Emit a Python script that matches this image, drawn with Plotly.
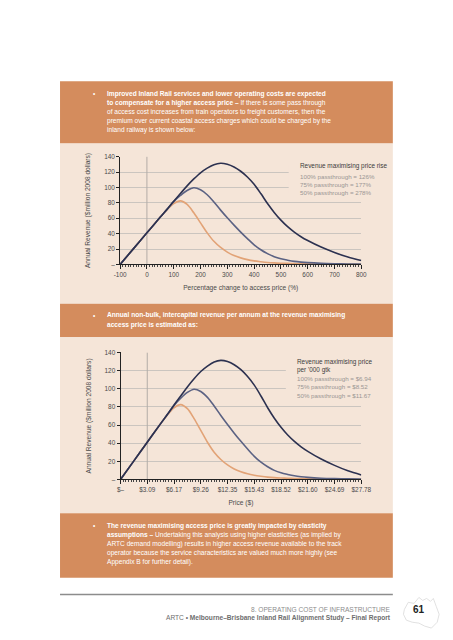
import plotly.graph_objects as go

# ---------------- data ----------------
pct_change = [-100, -50, 0, 50, 75, 100, 125, 150, 175, 200, 225, 250, 275, 300,
              325, 350, 375, 400, 425, 450, 475, 500, 525, 550, 575, 600, 650, 700, 750, 800]

rev_100_pass = [0, 20.5, 41, 61.5, 71, 79, 82.5, 78, 67, 54, 41, 30, 22, 16,
                11.5, 8.5, 6.2, 4.6, 3.5, 2.6, 2.0, 1.6, 1.3, 1.0, 0.85, 0.7, 0.5, 0.35, 0.25, 0.2]
rev_75_pass = [0, 20.5, 41, 61.5, 71.5, 81.5, 89.5, 96, 99.5, 97, 90.5, 81, 70.5, 60.5,
               51, 42, 33.5, 25.5, 19, 14, 10, 7.3, 5.5, 4, 3, 2.3, 1.4, 0.9, 0.6, 0.4]
rev_50_pass = [0, 20.5, 41, 61.5, 71.5, 82, 92, 102, 111, 119, 125, 129.5, 131.3, 130,
               126.5, 121, 113.5, 104, 92, 79, 67.5, 57.5, 49, 42, 36, 31, 22.5, 15.5, 9.5, 5]

series_names = ["100% passthrough", "75% passthrough", "50% passthrough"]

pct_ticks = [-100, 0, 100, 200, 300, 400, 500, 600, 700, 800]
pct_tick_labels = ["-100", "0", "100", "200", "300", "400", "500", "600", "700", "800"]
price_tick_labels = ["$–", "$3.09", "$6.17", "$9.26", "$12.35", "$15.43", "$18.52",
                     "$21.60", "$24.69", "$27.78"]
rev_ticks = [0, 20, 40, 60, 80, 100, 120, 140]
rev_tick_labels = ["–", "20", "40", "60", "80", "100", "120", "140"]

legend1_title = "Revenue maximising price rise"
legend1_lines = ["100% passthrough = 126%", "75% passthrough = 177%", "50% passthrough = 278%"]
legend2_title = ["Revenue maximising price", "per '000 gtk"]
legend2_lines = ["100% passthrough = $6.94", "75% passthrough = $8.52", "50% passthrough = $11.67"]

box1_lines = [
    "<b>Improved Inland Rail services and lower operating costs are expected</b>",
    "<b>to compensate for a higher access price –</b> If there is some pass through",
    "of access cost increases from train operators to freight customers, then the",
    "premium over current coastal access charges which could be charged by the",
    "inland railway is shown below:",
]
box2_lines = [
    "<b>Annual non-bulk, intercapital revenue per annum at the revenue maximising</b>",
    "<b>access price is estimated as:</b>",
]
box3_lines = [
    "<b>The revenue maximising access price is greatly impacted by elasticity</b>",
    "<b>assumptions –</b> Undertaking this analysis using higher elasticities (as implied by",
    "ARTC demand modelling) results in higher access revenue available to the track",
    "operator because the service characteristics are valued much more highly (see",
    "Appendix B for further detail).",
]

# ---------------- styling ----------------
W, H = 453, 640
FONT = "Liberation Sans, Arial, sans-serif"
ORANGE = "#d48c5d"
BEIGE = "#f5e5d8"
GRID = "#cbc5bf"
COLORS = ["#e2a377", "#5b6283", "#2c3150"]


def X(px):
    return px / W


def Y(py):
    return 1 - py / H


fig = go.Figure()

for i, (vals, name) in enumerate(zip([rev_100_pass, rev_75_pass, rev_50_pass], series_names)):
    for ax in ["", "2"]:
        fig.add_trace(go.Scatter(
            x=pct_change, y=vals, mode="lines", name=name, showlegend=False,
            line=dict(color=COLORS[i], width=1.6, shape="spline", smoothing=0.9),
            xaxis="x" + ax, yaxis="y" + ax, hoverinfo="skip"))

shapes = []
for (y0, y1, col) in [(78, 141, ORANGE), (141, 303, BEIGE), (303, 337, ORANGE),
                      (337, 515, BEIGE), (515, 580, ORANGE)]:
    shapes.append(dict(type="rect", xref="paper", yref="paper", x0=X(56), x1=X(401),
                       y0=Y(y1), y1=Y(y0), fillcolor=col, line=dict(width=0), layer="below"))
for xr, yr in [("x", "y"), ("x2", "y2")]:
    shapes.append(dict(type="line", xref=xr, yref=yr, x0=0, x1=0, y0=0, y1=140,
                       line=dict(color="#b3aca6", width=1), layer="between"))
shapes.append(dict(type="rect", xref="x", yref="y", x0=529, x1=800, y0=92, y1=130,
                   fillcolor=BEIGE, line=dict(width=0), layer="between"))
shapes.append(dict(type="rect", xref="x2", yref="y2", x0=518, x1=800, y0=92, y1=130,
                   fillcolor=BEIGE, line=dict(width=0), layer="between"))
shapes.append(dict(type="line", xref="paper", yref="paper", x0=X(56), x1=X(401),
                   y0=Y(597), y1=Y(597), line=dict(color="#8c8c8c", width=1.5)))
outline = [(413, 612), (417, 605), (423, 606), (428, 600), (432, 603), (436, 601),
           (440, 604), (443, 601), (446, 609), (449, 617), (447, 625), (441, 631),
           (434, 629), (428, 626), (421, 625), (415, 623), (412, 617)]
path = "M " + " L ".join(f"{X(a):.4f},{Y(b):.4f}" for a, b in outline) + " Z"
shapes.append(dict(type="path", xref="paper", yref="paper", path=path,
                   line=dict(color="#d9d9d9", width=0.8)))

annotations = []


def txt(px, py, text, size=6.5, color="white", xanchor="left"):
    annotations.append(dict(x=X(px), y=Y(py), xref="paper", yref="paper", text=text,
                            showarrow=False, xanchor=xanchor, yanchor="middle", align="left",
                            font=dict(family=FONT, size=size, color=color)))


for lines, ys in [(box1_lines, [90.7, 100, 109.3, 118.3, 127]),
                  (box2_lines, [314.5, 324.5]),
                  (box3_lines, [527.7, 536.7, 545.7, 554.7, 564])]:
    txt(88, ys[0], "•", size=6.5)
    for line, yy in zip(lines, ys):
        txt(102.7, yy, line, size=6.6)

txt(302.7, 164, legend1_title, size=6.4, color="#3c3c3c")
for line, yy in zip(legend1_lines, [174, 182.3, 190.7]):
    txt(302.7, yy, line, size=6.2, color="#9a9694")
for line, yy in zip(legend2_title, [362.3, 370]):
    txt(299.3, yy, line, size=6.4, color="#3c3c3c")
for line, yy in zip(legend2_lines, [378.7, 387, 395.7]):
    txt(299.3, yy, line, size=6.2, color="#9a9694")

txt(400.7, 612, "8. OPERATING COST OF INFRASTRUCTURE", size=6.6, color="#8c8c8c", xanchor="right")
txt(400.7, 621, "ARTC • <b>Melbourne–Brisbane Inland Rail Alignment Study – Final Report</b>",
    size=6.6, color="#6e6e6e", xanchor="right")
txt(428, 612, "<b>61</b>", size=10, color="#222222", xanchor="center")

tickfont = dict(family=FONT, size=6.4, color="#4a4a4a")
titlefont = dict(family=FONT, size=6.6, color="#4a4a4a")


def xax(domain, labels, title, anchor):
    return dict(domain=domain, range=[-100, 800], tickvals=pct_ticks, ticktext=labels,
                anchor=anchor, showgrid=False, zeroline=False, showline=True,
                linecolor="#222222", linewidth=1, ticks="outside", ticklen=4,
                tickcolor="#222222", tickfont=tickfont,
                minor=dict(ticks="outside", ticklen=2, dtick=10, tickcolor="#444444", showgrid=False),
                title=dict(text=title, font=titlefont, standoff=8), fixedrange=True)


def yax(domain, anchor):
    return dict(domain=domain, range=[0, 140], tickvals=rev_ticks, ticktext=rev_tick_labels,
                showgrid=True, gridcolor=GRID, gridwidth=1, zeroline=False,
                showline=True, linecolor="#222222", linewidth=1, ticks="outside", ticklen=3,
                tickcolor="#222222", tickfont=tickfont, anchor=anchor,
                title=dict(text="Annual Revenue ($million 2008 dollars)", font=titlefont, standoff=12),
                fixedrange=True)


fig.update_layout(
    width=W, height=H, margin=dict(l=0, r=0, t=0, b=0),
    paper_bgcolor="white", plot_bgcolor="rgba(0,0,0,0)", showlegend=False,
    font=dict(family=FONT),
    xaxis=xax([X(118.3), X(368.3)], pct_tick_labels, "Percentage change to access price (%)", "y"),
    yaxis=yax([Y(263.3), Y(154.3)], "x"),
    xaxis2=xax([X(118.7), X(368.3)], price_tick_labels, "Price ($)", "y2"),
    yaxis2=yax([Y(480.7), Y(352.3)], "x2"),
    shapes=shapes, annotations=annotations,
)

fig.write_html("out.html", config={"displayModeBar": False, "staticPlot": True},
               post_script="document.body.style.margin='0px';")
